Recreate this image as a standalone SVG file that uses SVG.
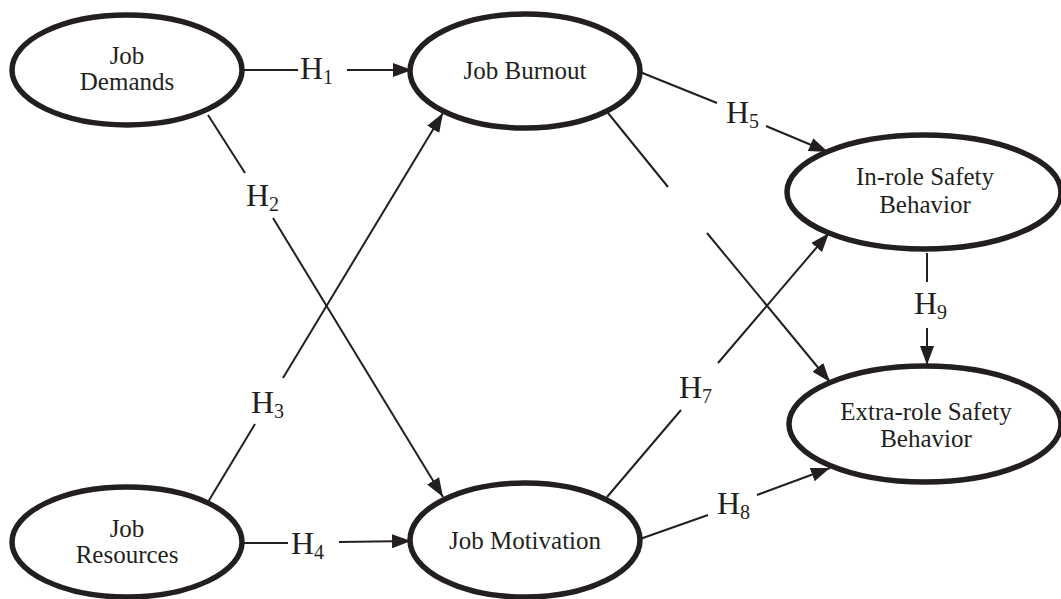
<svg xmlns="http://www.w3.org/2000/svg" width="1061" height="599" viewBox="0 0 1061 599">
<style>
.node ellipse{fill:#fff;stroke:#231f20;stroke-width:5.5}
.node text{font-family:"Liberation Serif","Times New Roman",serif;font-size:25px;fill:#231f20;text-anchor:middle}
.conn line{stroke:#231f20;stroke-width:2;fill:none}
.lbl{font-family:"Liberation Serif","Times New Roman",serif;font-size:32px;fill:#231f20}
.sub{font-size:20px}
</style>
<defs>
<marker id="arr" markerUnits="userSpaceOnUse" markerWidth="20" markerHeight="16" viewBox="0 0 20 16" refX="19" refY="8" orient="auto">
<path d="M0,1 L19,8 L0,15 Z" fill="#231f20"/>
</marker>
</defs>
<rect width="1061" height="599" fill="#fff"/>
<g class="conn">
<line x1="242" y1="70" x2="298" y2="70"/>
<line x1="347" y1="70" x2="412" y2="70" marker-end="url(#arr)"/>
<line x1="208" y1="115" x2="245" y2="173"/>
<line x1="273" y1="218" x2="443" y2="497" marker-end="url(#arr)"/>
<line x1="208" y1="502" x2="255" y2="424"/>
<line x1="283" y1="378" x2="443" y2="113" marker-end="url(#arr)"/>
<line x1="242" y1="543" x2="288" y2="543"/>
<line x1="339" y1="542" x2="411" y2="541" marker-end="url(#arr)"/>
<line x1="640" y1="72" x2="717" y2="103"/>
<line x1="766" y1="126" x2="828" y2="152" marker-end="url(#arr)"/>
<line x1="608" y1="113" x2="668" y2="187"/>
<line x1="707" y1="233" x2="830" y2="382" marker-end="url(#arr)"/>
<line x1="607" y1="497" x2="681" y2="410"/>
<line x1="718" y1="363" x2="829" y2="233" marker-end="url(#arr)"/>
<line x1="640" y1="539" x2="708" y2="515"/>
<line x1="757" y1="495" x2="830" y2="468" marker-end="url(#arr)"/>
<line x1="927" y1="253" x2="927" y2="282"/>
<line x1="927" y1="328" x2="927" y2="365" marker-end="url(#arr)"/>
</g>
<g id="labels">
<text class="lbl" x="300" y="79">H<tspan class="sub" dy="5">1</tspan></text>
<text class="lbl" x="246" y="206">H<tspan class="sub" dy="5">2</tspan></text>
<text class="lbl" x="251" y="413">H<tspan class="sub" dy="5">3</tspan></text>
<text class="lbl" x="291" y="554">H<tspan class="sub" dy="5">4</tspan></text>
<text class="lbl" x="726" y="123">H<tspan class="sub" dy="5">5</tspan></text>
<text class="lbl" x="679" y="398">H<tspan class="sub" dy="5">7</tspan></text>
<text class="lbl" x="717" y="514">H<tspan class="sub" dy="5">8</tspan></text>
<text class="lbl" x="914" y="314">H<tspan class="sub" dy="5">9</tspan></text>
</g>
<g id="job-demands" class="node">
<ellipse cx="127" cy="70" rx="115" ry="55"/>
<text x="127" y="64">Job</text>
<text x="127" y="90">Demands</text>
</g>
<g id="job-burnout" class="node">
<ellipse cx="525" cy="71" rx="115" ry="57"/>
<text x="525" y="79">Job Burnout</text>
</g>
<g id="in-role" class="node">
<ellipse cx="924" cy="192" rx="137" ry="57"/>
<text x="925" y="185">In-role Safety</text>
<text x="925" y="213">Behavior</text>
</g>
<g id="extra-role" class="node">
<ellipse cx="925" cy="424" rx="136" ry="58"/>
<text x="926" y="420">Extra-role Safety</text>
<text x="926" y="447">Behavior</text>
</g>
<g id="job-resources" class="node">
<ellipse cx="127" cy="542" rx="115" ry="55"/>
<text x="127" y="537">Job</text>
<text x="127" y="563">Resources</text>
</g>
<g id="job-motivation" class="node">
<ellipse cx="525" cy="540" rx="115" ry="57"/>
<text x="525" y="549">Job Motivation</text>
</g>
</svg>
